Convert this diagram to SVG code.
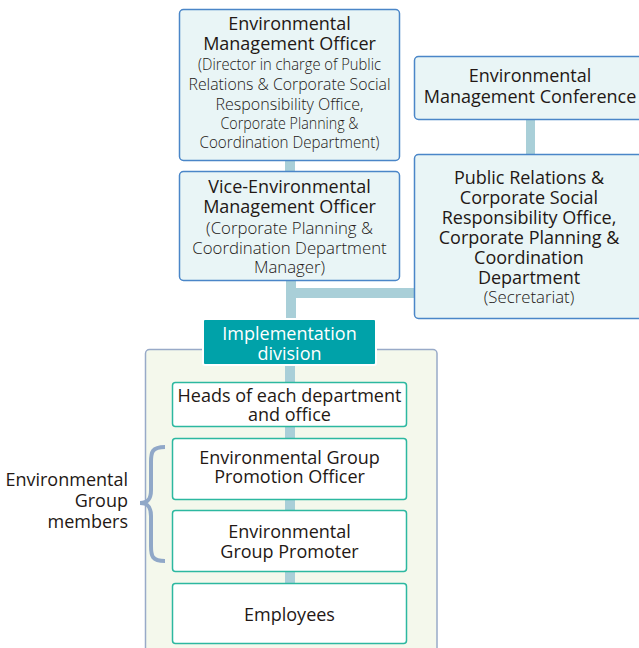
<svg xmlns="http://www.w3.org/2000/svg" width="639" height="648" viewBox="0 0 639 648">
<style>
.t{font-family:"Open Sans","Noto Sans",sans-serif;fill:#231815;text-anchor:middle}
.h{font-size:18px;font-weight:500}
.s{font-size:16.8px;font-weight:300}
.n{font-size:16px;font-weight:300}
.w{fill:#ffffff}
.bb{fill:#e9f5f6;stroke:#4a86c8;stroke-width:1.5}
.gb{fill:#ffffff;stroke:#2cb8a0;stroke-width:1.5}
.c{fill:#a9cfd8}
</style>
<rect x="0" y="0" width="639" height="648" fill="#ffffff"/>
<g id="container">
<rect x="145.5" y="349.5" width="291.5" height="305" rx="4" fill="#f4f8ec" stroke="#98aac8" stroke-width="1.5"/>
</g>
<g id="connectors">
<rect class="c" x="285" y="160" width="10" height="12"/>
<rect class="c" x="286" y="280" width="10" height="40"/>
<rect class="c" x="291" y="288" width="124" height="10"/>
<rect class="c" x="526" y="119" width="9" height="36"/>
<rect class="c" x="285" y="364" width="10" height="19"/>
<rect class="c" x="285" y="426" width="10" height="12"/>
<rect class="c" x="285" y="498" width="10" height="13"/>
<rect class="c" x="285" y="571" width="10" height="13"/>
</g>
<g id="env-mgmt-officer">
<rect class="bb" x="179.5" y="9.5" width="220" height="151" rx="4"/>
<text class="t h" x="289.5" y="30">Environmental</text>
<text class="t h" x="289.5" y="50">Management Officer</text>
<text class="t n" x="289.5" y="70" textLength="183" lengthAdjust="spacingAndGlyphs">(Director in charge of Public</text>
<text class="t n" x="289.5" y="90" textLength="202" lengthAdjust="spacingAndGlyphs">Relations &amp; Corporate Social</text>
<text class="t n" x="289.5" y="110" textLength="148" lengthAdjust="spacingAndGlyphs">Responsibility Office,</text>
<text class="t n" x="289.5" y="129" textLength="138" lengthAdjust="spacingAndGlyphs">Corporate Planning &amp;</text>
<text class="t n" x="289.5" y="148" textLength="180" lengthAdjust="spacingAndGlyphs">Coordination Department)</text>
</g>
<g id="vice-officer">
<rect class="bb" x="179.5" y="171.5" width="220" height="109" rx="4"/>
<text class="t h" x="289.5" y="193">Vice-Environmental</text>
<text class="t h" x="289.5" y="213">Management Officer</text>
<text class="t s" x="289.5" y="234">(Corporate Planning &amp;</text>
<text class="t s" x="289.5" y="254">Coordination Department</text>
<text class="t s" x="289.5" y="273">Manager)</text>
</g>
<g id="conference">
<rect class="bb" x="414.5" y="56.5" width="230" height="63" rx="4"/>
<text class="t h" x="530" y="82">Environmental</text>
<text class="t h" x="530" y="103">Management Conference</text>
</g>
<g id="secretariat">
<rect class="bb" x="414.5" y="154.5" width="230" height="164" rx="4"/>
<text class="t h" x="529" y="184">Public Relations &amp;</text>
<text class="t h" x="529" y="204">Corporate Social</text>
<text class="t h" x="529" y="224">Responsibility Office,</text>
<text class="t h" x="529" y="244">Corporate Planning &amp;</text>
<text class="t h" x="529" y="264">Coordination</text>
<text class="t h" x="529" y="284">Department</text>
<text class="t s" x="529" y="303">(Secretariat)</text>
</g>
<g id="implementation-division">
<rect x="203" y="319" width="173" height="46" rx="2" fill="#00a2a9" stroke="#ffffff" stroke-width="2"/>
<text class="t h w" x="289.5" y="340" style="font-weight:400">Implementation</text>
<text class="t h w" x="289.5" y="360" style="font-weight:400">division</text>
</g>
<g id="heads">
<rect class="gb" x="172.5" y="382.5" width="234" height="44" rx="3"/>
<text class="t h" x="289.5" y="402" style="font-weight:400">Heads of each department</text>
<text class="t h" x="289.5" y="421" style="font-weight:400">and office</text>
</g>
<g id="promotion-officer">
<rect class="gb" x="172.5" y="438.5" width="234" height="61" rx="3"/>
<text class="t h" x="289.5" y="464" style="font-weight:400">Environmental Group</text>
<text class="t h" x="289.5" y="483" style="font-weight:400">Promotion Officer</text>
</g>
<g id="promoter">
<rect class="gb" x="172.5" y="510.5" width="234" height="61" rx="3"/>
<text class="t h" x="289.5" y="538" style="font-weight:400">Environmental</text>
<text class="t h" x="289.5" y="558" style="font-weight:400">Group Promoter</text>
</g>
<g id="employees">
<rect class="gb" x="172.5" y="583.5" width="234" height="60" rx="3"/>
<text class="t h" x="289.5" y="621" style="font-weight:400">Employees</text>
</g>
<g id="group-members">
<path d="M165 447 C152 447 151 452 151 462 L151 490 C151 499 148 503 140 503 C148 503 151 507 151 516 L151 546 C151 556 152 561 165 561" fill="none" stroke="#90a8c8" stroke-width="4"/>
<text class="t h" x="128" y="486" style="text-anchor:end;font-weight:400">Environmental</text>
<text class="t h" x="128" y="507" style="text-anchor:end;font-weight:400">Group</text>
<text class="t h" x="128" y="528" style="text-anchor:end;font-weight:400">members</text>
</g>
</svg>
